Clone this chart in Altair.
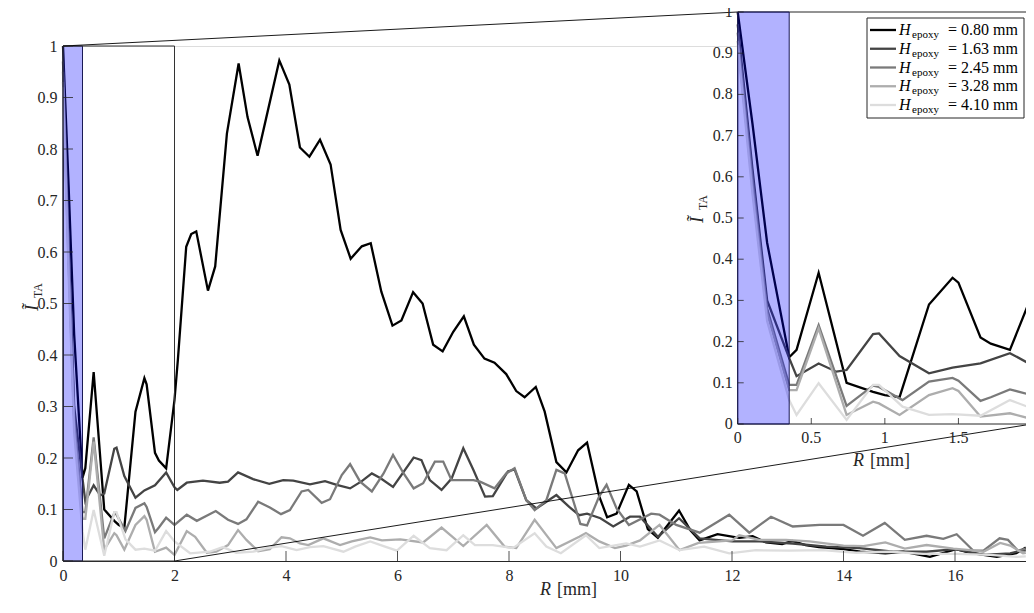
import altair as alt
import pandas as pd

# ---------------- data ----------------
SERIES = ["0.80", "1.63", "2.45", "3.28", "4.10"]
COLORS = ["#000000", "#444444", "#7a7a7a", "#adadad", "#dddddd"]

H080 = [(0, 1.0), (0.1, 0.73), (0.2, 0.44), (0.35, 0.162), (0.4, 0.18), (0.55, 0.367), (0.74, 0.10),
        (0.92, 0.078), (1.0, 0.07), (1.1, 0.065), (1.3, 0.29), (1.46, 0.355), (1.5, 0.343), (1.65, 0.21),
        (1.72, 0.195), (1.85, 0.18), (2.0, 0.313), (2.06, 0.39), (2.21, 0.61), (2.3, 0.635), (2.39, 0.64),
        (2.6, 0.525), (2.73, 0.572), (2.94, 0.83), (3.15, 0.966), (3.31, 0.862), (3.49, 0.787), (3.64, 0.858),
        (3.88, 0.972), (4.06, 0.925), (4.25, 0.803), (4.42, 0.785), (4.61, 0.818), (4.80, 0.77), (4.98, 0.643),
        (5.16, 0.587), (5.36, 0.611), (5.52, 0.617), (5.71, 0.523), (5.91, 0.457), (6.07, 0.467), (6.28, 0.522),
        (6.45, 0.5), (6.64, 0.42), (6.81, 0.407), (7.0, 0.445), (7.19, 0.475), (7.37, 0.42), (7.56, 0.393),
        (7.74, 0.385), (7.95, 0.363), (8.13, 0.33), (8.28, 0.318), (8.48, 0.338), (8.64, 0.29), (8.85, 0.192),
        (9.03, 0.172), (9.24, 0.215), (9.40, 0.23), (9.62, 0.125), (9.76, 0.085), (9.93, 0.092), (10.15, 0.148),
        (10.29, 0.135), (10.49, 0.062), (10.67, 0.045), (11.05, 0.098), (11.25, 0.06), (11.42, 0.04),
        (11.74, 0.052), (12.13, 0.045), (12.37, 0.048), (12.61, 0.036), (12.9, 0.033), (13.08, 0.039),
        (13.32, 0.031), (13.56, 0.027), (14.0, 0.023), (14.3, 0.018), (14.75, 0.015), (15.07, 0.018),
        (15.55, 0.008), (16.02, 0.023), (16.27, 0.016), (16.75, 0.008), (17.1, 0.015), (17.27, 0.026)]

H163 = [(0, 0.97), (0.1, 0.62), (0.2, 0.30), (0.35, 0.16), (0.4, 0.116), (0.55, 0.147), (0.67, 0.127),
        (0.74, 0.131), (0.92, 0.218), (0.96, 0.22), (1.1, 0.165), (1.3, 0.123), (1.46, 0.137), (1.65, 0.147),
        (1.85, 0.172), (2.0, 0.143), (2.05, 0.138), (2.22, 0.152), (2.51, 0.156), (2.81, 0.152), (2.96, 0.154),
        (3.14, 0.172), (3.41, 0.159), (3.70, 0.15), (3.95, 0.157), (4.13, 0.156), (4.43, 0.149), (4.70, 0.155),
        (4.91, 0.148), (5.15, 0.141), (5.36, 0.155), (5.54, 0.17), (5.69, 0.161), (5.92, 0.144), (6.29, 0.201),
        (6.43, 0.196), (6.58, 0.157), (6.79, 0.138), (6.97, 0.16), (7.18, 0.219), (7.36, 0.177), (7.57, 0.125),
        (7.71, 0.126), (7.98, 0.174), (8.10, 0.178), (8.31, 0.118), (8.49, 0.102), (8.85, 0.128), (9.08, 0.105),
        (9.26, 0.089), (9.40, 0.092), (9.64, 0.083), (9.87, 0.067), (10.17, 0.086), (10.35, 0.086),
        (10.67, 0.047), (11.05, 0.083), (11.42, 0.044), (11.71, 0.041), (12.01, 0.038), (12.49, 0.038),
        (13.09, 0.034), (13.69, 0.028), (14.29, 0.025), (14.89, 0.018), (15.49, 0.018), (16.0, 0.023),
        (16.51, 0.012), (16.99, 0.015), (17.22, 0.021), (17.27, 0.02)]

H245 = [(0, 0.95), (0.1, 0.60), (0.2, 0.28), (0.35, 0.095), (0.4, 0.095), (0.55, 0.24), (0.74, 0.044),
        (0.92, 0.093), (0.96, 0.09), (1.12, 0.058), (1.3, 0.103), (1.46, 0.112), (1.5, 0.105), (1.65, 0.056),
        (1.72, 0.065), (1.85, 0.084), (2.0, 0.07), (2.22, 0.09), (2.4, 0.078), (2.74, 0.097), (2.96, 0.08),
        (3.14, 0.072), (3.29, 0.081), (3.5, 0.115), (3.71, 0.104), (3.91, 0.091), (4.07, 0.099), (4.28, 0.135),
        (4.4, 0.138), (4.64, 0.113), (4.79, 0.12), (5.0, 0.167), (5.15, 0.188), (5.33, 0.154), (5.54, 0.135),
        (5.75, 0.17), (5.92, 0.206), (6.11, 0.17), (6.29, 0.141), (6.46, 0.151), (6.67, 0.193), (6.82, 0.193),
        (6.97, 0.157), (7.36, 0.157), (7.48, 0.154), (7.74, 0.141), (7.95, 0.17), (8.10, 0.18), (8.31, 0.118),
        (8.46, 0.099), (8.67, 0.118), (8.85, 0.177), (9.0, 0.17), (9.15, 0.118), (9.28, 0.072), (9.40, 0.069),
        (9.62, 0.126), (9.75, 0.148), (9.93, 0.102), (10.15, 0.07), (10.55, 0.092), (10.7, 0.09), (11.0, 0.07),
        (11.42, 0.055), (11.95, 0.09), (12.31, 0.055), (12.7, 0.086), (13.09, 0.067), (13.57, 0.07),
        (14.0, 0.07), (14.35, 0.049), (14.74, 0.074), (15.1, 0.041), (15.49, 0.049), (15.79, 0.043),
        (16.03, 0.052), (16.33, 0.02), (16.51, 0.02), (16.8, 0.044), (16.95, 0.041), (17.13, 0.02),
        (17.27, 0.024)]

H328 = [(0, 0.93), (0.1, 0.58), (0.2, 0.27), (0.35, 0.082), (0.4, 0.082), (0.55, 0.232), (0.74, 0.022),
        (0.92, 0.054), (0.96, 0.05), (1.1, 0.022), (1.3, 0.07), (1.46, 0.087), (1.5, 0.08), (1.65, 0.018),
        (1.85, 0.026), (2.0, 0.012), (2.22, 0.058), (2.37, 0.047), (2.58, 0.016), (2.75, 0.018), (2.96, 0.031),
        (3.14, 0.06), (3.29, 0.041), (3.5, 0.019), (3.71, 0.023), (3.92, 0.046), (4.07, 0.044), (4.25, 0.034),
        (4.4, 0.031), (4.67, 0.044), (4.97, 0.031), (5.18, 0.038), (5.51, 0.046), (5.72, 0.04), (6.05, 0.042),
        (6.46, 0.036), (6.79, 0.065), (7.18, 0.029), (7.6, 0.07), (7.92, 0.028), (8.13, 0.025), (8.46, 0.08),
        (8.85, 0.025), (9.26, 0.047), (9.38, 0.054), (9.62, 0.038), (9.9, 0.025), (10.1, 0.03), (10.35, 0.04),
        (10.7, 0.07), (11.06, 0.021), (11.4, 0.035), (12.0, 0.04), (12.13, 0.05), (12.49, 0.041),
        (12.97, 0.041), (13.39, 0.038), (14.0, 0.03), (14.36, 0.029), (14.75, 0.036), (15.1, 0.024),
        (15.49, 0.031), (15.97, 0.024), (16.27, 0.021), (16.51, 0.018), (16.81, 0.035), (16.99, 0.03),
        (17.22, 0.015), (17.27, 0.016)]

H410 = [(0, 0.92), (0.1, 0.56), (0.2, 0.25), (0.35, 0.058), (0.4, 0.022), (0.55, 0.099), (0.74, 0.01),
        (0.92, 0.095), (0.96, 0.095), (1.12, 0.042), (1.3, 0.022), (1.46, 0.024), (1.65, 0.02), (1.85, 0.058),
        (2.0, 0.038), (2.28, 0.015), (2.63, 0.018), (2.87, 0.027), (3.11, 0.016), (3.41, 0.018), (3.65, 0.025),
        (3.92, 0.029), (4.19, 0.021), (4.43, 0.027), (4.67, 0.029), (5.03, 0.018), (5.24, 0.028), (5.51, 0.038),
        (5.75, 0.029), (5.99, 0.02), (6.29, 0.049), (6.58, 0.025), (6.88, 0.021), (7.18, 0.05), (7.39, 0.031),
        (7.71, 0.031), (8.07, 0.025), (8.46, 0.054), (8.67, 0.028), (8.93, 0.015), (9.38, 0.05), (9.62, 0.025),
        (10.1, 0.034), (10.35, 0.028), (10.7, 0.04), (11.06, 0.021), (11.5, 0.028), (11.95, 0.015),
        (12.43, 0.021), (13.03, 0.02), (13.63, 0.021), (14.23, 0.016), (14.83, 0.018), (15.43, 0.014),
        (16.03, 0.014), (16.63, 0.012), (17.1, 0.008), (17.27, 0.009)]

MAIN_XTICKS = [0, 2, 4, 6, 8, 10, 12, 14, 16]
YTICKS = [0, 0.1, 0.2, 0.3, 0.4, 0.5, 0.6, 0.7, 0.8, 0.9, 1]
YLABELS = ["0", "0.1", "0.2", "0.3", "0.4", "0.5", "0.6", "0.7", "0.8", "0.9", "1"]
INSET_XTICKS = [0, 0.5, 1, 1.5, 2]
INSET_XLABELS = ["0", "0.5", "1", "1.5", "2"]
SHADE = [0, 0.35]     # shaded R band [mm]
ZOOM = [0, 2]         # zoomed R range [mm]

rows = []
for lab, pts in zip(SERIES, [H080, H163, H245, H328, H410]):
    for r, v in pts:
        rows.append({"H": lab, "R": r, "I": v})
df = pd.DataFrame(rows)

# ---------------- layout ----------------
W, HGT = 963, 515
PX = 55.75                       # pixels per mm on the main axis
FONT = "Liberation Serif"
INK = "#262626"
IX0, IX1, IY0, IY1 = 674.7, 969.0, 378.0, -34.0   # inset box in plot pixels

xs = alt.Scale(domain=[0, W / PX], nice=False, zero=False)
ys = alt.Scale(domain=[0, 1], nice=False, zero=False)
AX_X = alt.Axis(orient="bottom", values=MAIN_XTICKS, ticks=False, grid=False, domainColor=INK,
                labelFont=FONT, labelFontSize=16, labelColor=INK, labelPadding=6, title=None,
                format="~g", labelFlush=False, labelOverlap=False)
AX_Y = alt.Axis(orient="left", values=YTICKS, ticks=False, grid=False, domainColor=INK,
                labelFont=FONT, labelFontSize=16, labelColor=INK, labelPadding=6, title=None,
                format="~g", labelFlush=False, labelOverlap=False)


def X(f):
    return alt.X(f, type="quantitative", scale=xs, axis=AX_X)


def Y(f):
    return alt.Y(f, type="quantitative", scale=ys, axis=AX_Y)


# inset data -> main-scale coordinates (expressions)
SXI = (IX1 - IX0) / (ZOOM[1] * PX)
def ixe(e):
    return f"{IX0 / PX} + ({e}) * {SXI}"


def iye(e):
    return f"1 - ({IY0} - ({e}) * {IY0 - IY1}) / {HGT}"


COLOR = alt.Color("H:N", scale=alt.Scale(domain=SERIES, range=COLORS), legend=None)

box_df = pd.DataFrame({"x0": [SHADE[0]], "x1": [SHADE[1]], "z0": [ZOOM[0]], "z1": [ZOOM[1]],
                       "y0": [0.0], "y1": [1.0]})
box_df_i = alt.Chart(box_df).transform_calculate(
    ax0=ixe("datum.x0"), ax1=ixe("datum.x1"), az0=ixe("datum.z0"), az1=ixe("datum.z1"),
    ay0=iye("datum.y0"), ay1=iye("datum.y1"))
xt_df = pd.DataFrame({"t": MAIN_XTICKS})
yt_df = pd.DataFrame({"t": YTICKS, "lab": YLABELS})
ixt_df = pd.DataFrame({"t": INSET_XTICKS, "lab": INSET_XLABELS})

layers = []
# ---------------- main panel ----------------
for lab in SERIES:
    layers.append(
        alt.Chart(df).transform_filter(alt.datum.H == lab)
        .mark_line(strokeWidth=2.3)
        .encode(x=X("R"), y=Y("I"), color=COLOR, order="R:Q")
    )
layers += [
    alt.Chart(box_df).mark_rect(fill="blue", fillOpacity=0.3, stroke="#1a1a55", strokeWidth=1)
    .encode(x=X("x0"), x2="x1:Q", y=Y("y0"), y2="y1:Q"),
    alt.Chart(box_df).mark_rect(filled=False, stroke="#333333", strokeWidth=1)
    .encode(x=X("z0"), x2="z1:Q", y=Y("y0"), y2="y1:Q"),
    # connector lines from the zoom box to the inset corners
    box_df_i.mark_rule(color="black", strokeWidth=0.9)
    .encode(x=X("z0"), y=Y("y1"), x2="az0:Q", y2="ay1:Q"),
    box_df_i.mark_rule(color="black", strokeWidth=0.9)
    .encode(x=X("z1"), y=Y("y0"), x2="az1:Q", y2="ay0:Q"),
    alt.Chart(xt_df).mark_rule(color=INK, strokeWidth=0.8)
    .encode(x=X("t"), y=alt.value(HGT), y2=alt.value(HGT - 10)),
    alt.Chart(yt_df).mark_rule(color=INK, strokeWidth=0.8)
    .encode(y=Y("t"), x=alt.value(0), x2=alt.value(10)),
]

# ---------------- inset panel (mapped into the main coordinates) ----------------
layers.append(
    box_df_i.mark_rect(fill="white", stroke=INK, strokeWidth=1)
    .encode(x=X("az0"), x2="az1:Q", y=Y("ay0"), y2="ay1:Q")
)
for lab in SERIES:
    layers.append(
        alt.Chart(df).transform_filter((alt.datum.H == lab) & (alt.datum.R <= ZOOM[1] + 1e-6))
        .transform_calculate(ir=ixe("datum.R"), ii=iye("datum.I"))
        .mark_line(strokeWidth=2.3)
        .encode(x=X("ir"), y=Y("ii"), color=COLOR, order="R:Q")
    )
layers += [
    box_df_i.mark_rect(fill="blue", fillOpacity=0.3, stroke="#1a1a55", strokeWidth=1)
    .encode(x=X("ax0"), x2="ax1:Q", y=Y("ay0"), y2="ay1:Q"),
    # inset x ticks + labels
    alt.Chart(ixt_df).transform_calculate(tx=ixe("datum.t"), ty0=iye("0"), ty1=iye(f"{6 / (IY0 - IY1)}"))
    .mark_rule(color=INK, strokeWidth=0.8)
    .encode(x=X("tx"), y=Y("ty0"), y2="ty1:Q"),
    alt.Chart(ixt_df).transform_calculate(tx=ixe("datum.t"), ty0=iye("0"))
    .mark_text(font=FONT, fontSize=16, color=INK, align="center", baseline="top", dy=6)
    .encode(x=X("tx"), y=Y("ty0"), text="lab:N"),
    # inset y ticks + labels
    alt.Chart(yt_df).transform_calculate(tx0=ixe("0"), tx1=ixe(f"{6 * ZOOM[1] / (IX1 - IX0)}"),
                                         ty=iye("datum.t"))
    .mark_rule(color=INK, strokeWidth=0.8)
    .encode(x=X("tx0"), x2="tx1:Q", y=Y("ty")),
    alt.Chart(yt_df).transform_calculate(tx0=ixe("0"), ty=iye("datum.t"))
    .mark_text(font=FONT, fontSize=16, color=INK, align="right", baseline="middle", dx=-5)
    .encode(x=X("tx0"), y=Y("ty"), text="lab:N"),
]

# ---------------- legend ----------------
LEG_TOP_PX, LEG_STEP_PX = -16.0, 18.75
leg_df = pd.DataFrame({"H": SERIES, "i": list(range(len(SERIES)))})
leg = alt.Chart(leg_df).transform_calculate(
    ly=f"1 - ({LEG_TOP_PX} + datum.i * {LEG_STEP_PX}) / {HGT}",
    lbl="'= ' + datum.H + ' mm'")
dummy = pd.DataFrame({"d": [0]})
layers += [
    alt.Chart(dummy).mark_rect(fill="white", stroke=INK, strokeWidth=1)
    .encode(x=alt.value(804), x2=alt.value(961), y=alt.value(-28), y2=alt.value(72)),
    leg.mark_rule(strokeWidth=2.3).encode(x=alt.value(807), x2=alt.value(833), y=Y("ly"), color=COLOR),
    leg.mark_text(text="H", font=FONT, fontSize=16, fontStyle="italic", align="left",
                  baseline="middle", color="black").encode(x=alt.value(836), y=Y("ly")),
    leg.mark_text(text="epoxy", font=FONT, fontSize=11, align="left", baseline="middle",
                  dy=5, color="black").encode(x=alt.value(849), y=Y("ly")),
    leg.mark_text(font=FONT, fontSize=16, align="left", baseline="middle", color="black")
    .encode(x=alt.value(885), y=Y("ly"), text="lbl:N"),
]

# ---------------- axis titles ----------------
def txt(t, x, y, size=18, italic=False, angle=0):
    kw = dict(text=t, font=FONT, fontSize=size, align="left", baseline="alphabetic", color=INK)
    if italic:
        kw["fontStyle"] = "italic"
    if angle:
        kw["angle"] = angle
    return alt.Chart(dummy).mark_text(**kw).encode(x=alt.value(x), y=alt.value(y))


layers += [
    txt("R", 477, 549, italic=True), txt("[mm]", 494, 549),
    txt("R", 790, 420, italic=True), txt("[mm]", 807, 420),
    txt("Ĩ", -25, 265, size=19, italic=True, angle=270), txt("TA", -21, 252, size=12, angle=270),
    txt("Ĩ", 640, 177, size=19, italic=True, angle=270), txt("TA", 644, 164, size=12, angle=270),
]

chart = (
    alt.layer(*layers)
    .properties(width=W, height=HGT, autosize=alt.AutoSizeParams(type="none"),
                padding={"left": 55, "top": 38, "right": 0, "bottom": 37})
    .configure_view(stroke="transparent", strokeWidth=0)
    .configure(background="white")
)

chart.save("out.html", embed_options={"renderer": "svg", "actions": False})
